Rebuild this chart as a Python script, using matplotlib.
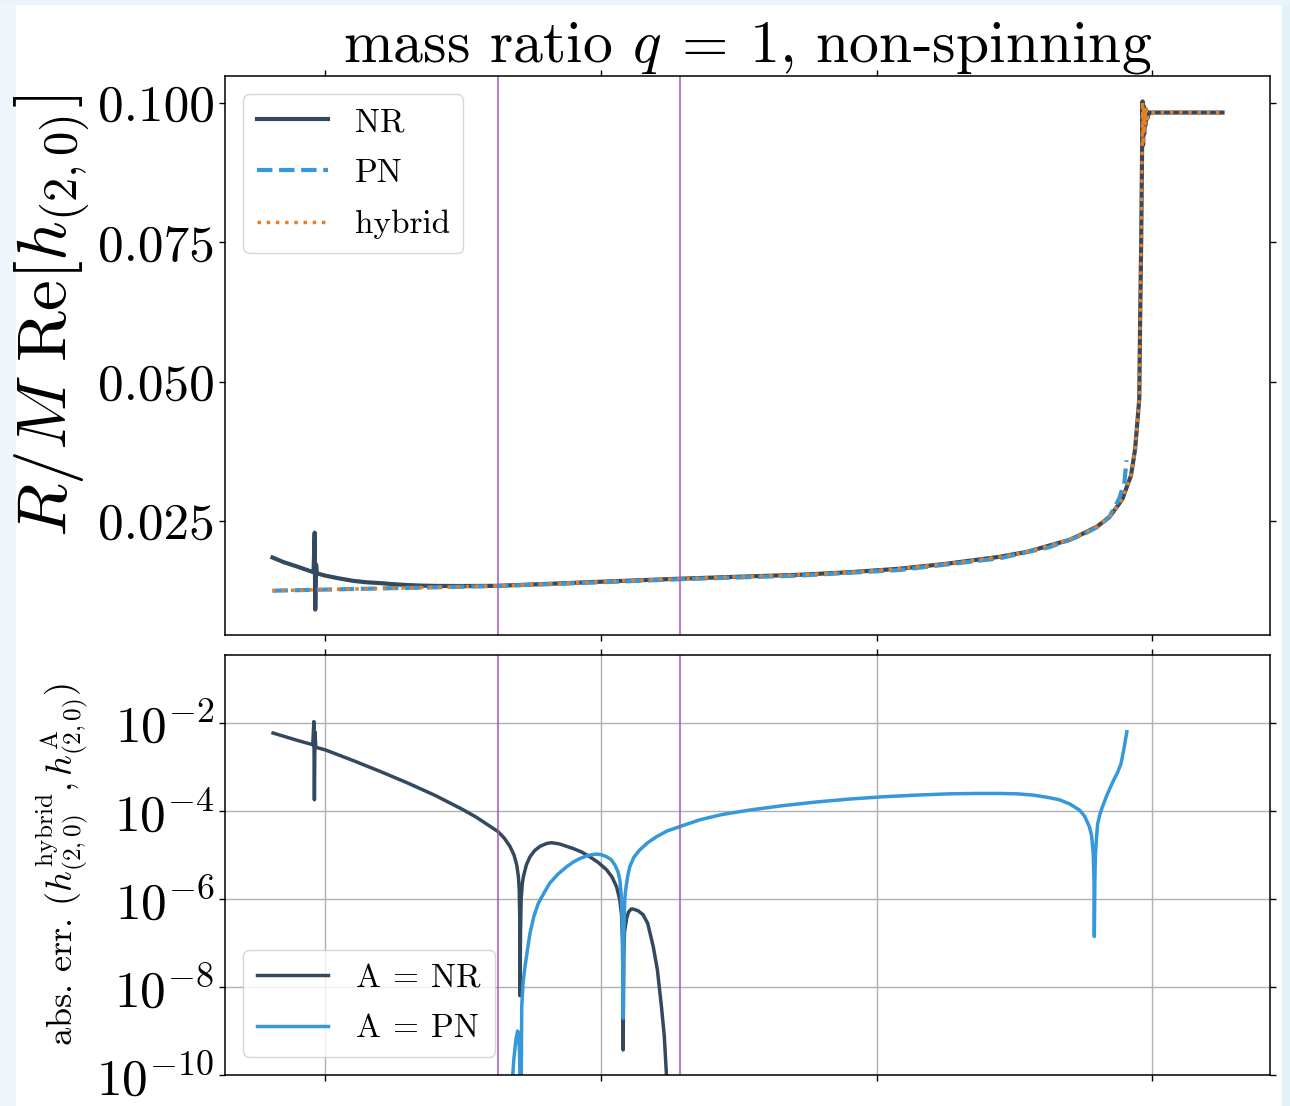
import numpy as np
import matplotlib
matplotlib.use("Agg")
import matplotlib.pyplot as plt
from matplotlib.ticker import FormatStrFormatter, NullLocator, FixedLocator
from matplotlib.patches import Rectangle

plt.rcParams['font.family'] = ['cmr10', 'DejaVu Serif']
plt.rcParams['mathtext.fontset'] = 'cm'
plt.rcParams['axes.formatter.use_mathtext'] = True

# colours (flat-ui palette)
c_nr = '#34495e'
c_pn = '#3498db'
c_hyb = '#e67e22'
c_vl = '#9b59b6'

# --- top panel: R/M Re[h_(2,0)] vs time ---
nr_t = [-3191, -3150, -3100, -3060, -3042, -3038, -3036, -3033, -3030, -3000, -2950, -2897,
        -2850, -2800, -2752, -2700, -2650, -2595, -2500, -2378, -2200, -2000, -1714, -1500,
        -1279, -1100, -917, -750, -554, -450, -373, -300, -253, -200, -156, -130, -108, -90,
        -77, -62, -53, -47, -44, -40, -37, -35, -33, -31, -29, -27, -25, -22, -18, -11, 0,
        100, 255]
nr_h = [0.01845, 0.0176, 0.0168, 0.0161, 0.0158, 0.0229, 0.0091, 0.0172, 0.0156, 0.0152,
        0.0147, 0.01425, 0.0140, 0.01385, 0.01365, 0.0135, 0.0134, 0.01335, 0.01333, 0.01336,
        0.0137, 0.0141, 0.01464, 0.0150, 0.01535, 0.0158, 0.01643, 0.0173, 0.01857, 0.0195,
        0.0206, 0.0216, 0.02269, 0.0240, 0.02568, 0.0274, 0.02895, 0.0314, 0.03312, 0.0379,
        0.04327, 0.04685, 0.060, 0.075, 0.090, 0.1003, 0.0925, 0.0995, 0.0945, 0.0990,
        0.0960, 0.0988, 0.0972, 0.0983, 0.0983, 0.0983, 0.0983]

pn_t = [-3191, -2897, -2595, -2378, -2000, -1714, -1279, -917, -554, -373, -253, -200,
        -156, -120, -101, -93]
pn_h = [0.01249, 0.0128, 0.0131, 0.01333, 0.0140, 0.01455, 0.0152, 0.0162, 0.0183, 0.0203,
        0.0225, 0.0239, 0.0257, 0.0290, 0.0319, 0.0359]

hyb_t = [-3191, -2897, -2595, -2378, -2200, -2000, -1714, -1500, -1279, -1100, -917, -750,
         -554, -450, -373, -300, -253, -200, -156, -130, -108, -90, -77, -62, -53, -47, -44,
         -40, -37, -35, -33, -31, -29, -27, -25, -22, -18, -11, 0, 100, 255]
hyb_h = [0.01249, 0.0128, 0.0131, 0.01333, 0.0137, 0.0141, 0.01464, 0.0150, 0.01535, 0.0158,
         0.01643, 0.0173, 0.01857, 0.0195, 0.0206, 0.0216, 0.02269, 0.0240, 0.02568, 0.0274,
         0.02895, 0.0314, 0.03312, 0.0379, 0.04327, 0.04685, 0.060, 0.075, 0.090, 0.1003,
         0.0925, 0.0995, 0.0945, 0.0990, 0.0960, 0.0988, 0.0972, 0.0983, 0.0983, 0.0983, 0.0983]

# hybridisation window
t_window = [-2373, -1714]

# --- bottom panel: absolute error ---
err_nr_t = [-3189, -3100, -3045, -3041, -3039, -3037, -3034, -3000, -2900, -2800, -2700,
            -2600, -2500, -2450, -2400, -2373, -2350, -2330, -2315, -2305, -2299, -2296,
            -2294, -2293, -2291.5, -2289, -2285, -2281, -2270, -2257, -2240, -2220, -2197,
            -2179, -2150, -2100, -2070, -2040, -2010, -1979, -1960, -1943, -1932, -1925,
            -1921, -1919, -1917, -1914, -1907, -1900, -1890, -1883, -1865, -1847, -1830,
            -1810, -1795, -1780, -1770, -1762, -1755]
err_nr = [5.9e-3, 4.0e-3, 3.2e-3, 1.07e-2, 1.8e-4, 6.3e-3, 2.8e-3, 2.45e-3, 1.41e-3, 7.9e-4,
          4.3e-4, 2.24e-4, 1.07e-4, 7.1e-5, 4.4e-5, 3.4e-5, 2.4e-5, 1.58e-5, 1.0e-5, 5.9e-6,
          3.2e-6, 1.6e-6, 3.2e-7, 6.3e-9, 1.6e-7, 1.0e-6, 2.2e-6, 3.2e-6, 6.0e-6, 9.1e-6,
          1.26e-5, 1.58e-5, 1.82e-5, 1.9e-5, 1.78e-5, 1.4e-5, 1.17e-5, 9.1e-6, 6.8e-6,
          4.6e-6, 3.2e-6, 1.9e-6, 1.0e-6, 4.5e-7, 1.0e-7, 3.7e-10, 5.0e-8, 1.8e-7, 3.5e-7,
          5.0e-7, 5.9e-7, 5.9e-7, 5.4e-7, 4.4e-7, 2.8e-7, 8.3e-8, 2.5e-8, 3.5e-9, 7.9e-10,
          1e-10, 1e-11]

err_pn_t = [-2323, -2315, -2308, -2302, -2298, -2295, -2292, -2289, -2287, -2282, -2275,
            -2265, -2257, -2243, -2227, -2205, -2185, -2155, -2124, -2100, -2076, -2045,
            -2016, -1995, -1979, -1962, -1949, -1938, -1931, -1926, -1922, -1919, -1916,
            -1913, -1910, -1903, -1895, -1880, -1859, -1830, -1798, -1760, -1714, -1641,
            -1560, -1460, -1340, -1218, -1100, -977, -850, -735, -640, -554, -490, -434,
            -380, -337, -300, -264, -245, -228, -220, -214, -211, -210, -208, -206, -202,
            -198, -190, -180, -168, -156, -140, -125, -113, -103, -92]
err_pn = [5e-11, 2.5e-10, 6.3e-10, 1.0e-9, 8.9e-10, 3.2e-10, 3e-11, 3e-11, 3.5e-9, 1.26e-8,
          2.9e-8, 7.9e-8, 1.66e-7, 4.0e-7, 7.9e-7, 1.41e-6, 2.3e-6, 3.7e-6, 5.4e-6, 6.9e-6,
          8.3e-6, 9.8e-6, 1.05e-5, 1.0e-5, 9.1e-6, 7.8e-6, 5.9e-6, 4.2e-6, 2.7e-6, 1.26e-6,
          2.5e-7, 1.95e-9, 2.5e-7, 1.0e-6, 1.6e-6, 3.2e-6, 5.4e-6, 8.9e-6, 1.3e-5, 1.9e-5,
          2.6e-5, 3.5e-5, 4.4e-5, 6.3e-5, 8.3e-5, 1.05e-4, 1.32e-4, 1.6e-4, 1.86e-4, 2.1e-4,
          2.3e-4, 2.45e-4, 2.5e-4, 2.5e-4, 2.45e-4, 2.3e-4, 2.04e-4, 1.8e-4, 1.45e-4,
          1.05e-4, 7.6e-5, 4.4e-5, 2.8e-5, 1.1e-5, 2.5e-6, 1.4e-7, 2.5e-6, 1e-5, 2.5e-5,
          5e-5, 8.3e-5, 1.26e-4, 2.0e-4, 3e-4, 5.0e-4, 7.6e-4, 1.2e-3, 2.5e-3, 6.3e-3]

x_ticks = [-3000, -2000, -1000, 0]
top_yticks = [0.025, 0.050, 0.075, 0.100]
bot_yticks = [1e-10, 1e-8, 1e-6, 1e-4, 1e-2]

fig = plt.figure(figsize=(12.9, 11.06), dpi=100)
# screenshot border strips
fig.patches.append(Rectangle((0, 0), 15/1290, 1, transform=fig.transFigure,
                             color='#eef5fb', zorder=-10))
fig.patches.append(Rectangle((1282/1290, 0), 8/1290, 1, transform=fig.transFigure,
                             color='#e3f1fa', zorder=-10))
fig.patches.append(Rectangle((0, 1 - 4/1106), 1, 4/1106, transform=fig.transFigure,
                             color='#eaf4fb', zorder=-10))

ax1 = fig.add_axes([225/1290, 1 - 635/1106, 1045/1290, 559/1106])
ax2 = fig.add_axes([225/1290, 1 - 1075/1106, 1045/1290, 420/1106], sharex=ax1)

leg_kw = dict(fontsize=24, labelspacing=0.65, handlelength=2.15, borderaxespad=0.55)

ax1.plot(nr_t, nr_h, color=c_nr, lw=3, label='NR')
ax1.plot(pn_t, pn_h, color=c_pn, lw=3, ls='--', label='PN')
ax1.plot(hyb_t, hyb_h, color=c_hyb, lw=2.5, ls=':', label='hybrid')
for tv in t_window:
    ax1.axvline(tv, color=c_vl, lw=1.5, alpha=0.75)
ax1.yaxis.set_major_locator(FixedLocator(top_yticks))
ax1.yaxis.set_major_formatter(FormatStrFormatter('%.3f'))
ax1.set_ylabel(r'$R/M\ \mathrm{Re}[h_{(2,0)}]$', fontsize=50)
ax1.yaxis.set_label_coords(-0.127, 0.57)
ax1.set_title(r'mass ratio $q\:=\:1$, non-spinning', fontsize=43, pad=10)
ax1.legend(loc='upper left', **leg_kw)

ax2.plot(err_nr_t, err_nr, color=c_nr, lw=2.5, label=r'$\mathrm{A}\:=\:\mathrm{NR}$')
ax2.plot(err_pn_t, err_pn, color=c_pn, lw=2.5, label=r'$\mathrm{A}\:=\:\mathrm{PN}$')
for tv in t_window:
    ax2.axvline(tv, color=c_vl, lw=1.5, alpha=0.75)
ax2.set_yscale('log')
ax2.set_ylim(1e-10, 0.35)
ax2.yaxis.set_major_locator(FixedLocator(bot_yticks))
ax2.yaxis.set_minor_locator(NullLocator())
ax2.grid(True, color='#b0b0b0', lw=1)
ax2.set_ylabel(r'abs. err. $(h^{\mathrm{hybrid}}_{(2,0)}, h^{\mathrm{A}}_{(2,0)})$', fontsize=26)
ax2.legend(loc='lower left', **leg_kw)

ax1.xaxis.set_major_locator(FixedLocator(x_ticks))
for ax in (ax1, ax2):
    ax.tick_params(axis='both', which='both', direction='out', top=True, right=True,
                   labelbottom=False, length=4, width=1, labelsize=37)
    for sp in ax.spines.values():
        sp.set_linewidth(1.1)
        sp.set_color('black')

fig.savefig('out.png', dpi=100)
